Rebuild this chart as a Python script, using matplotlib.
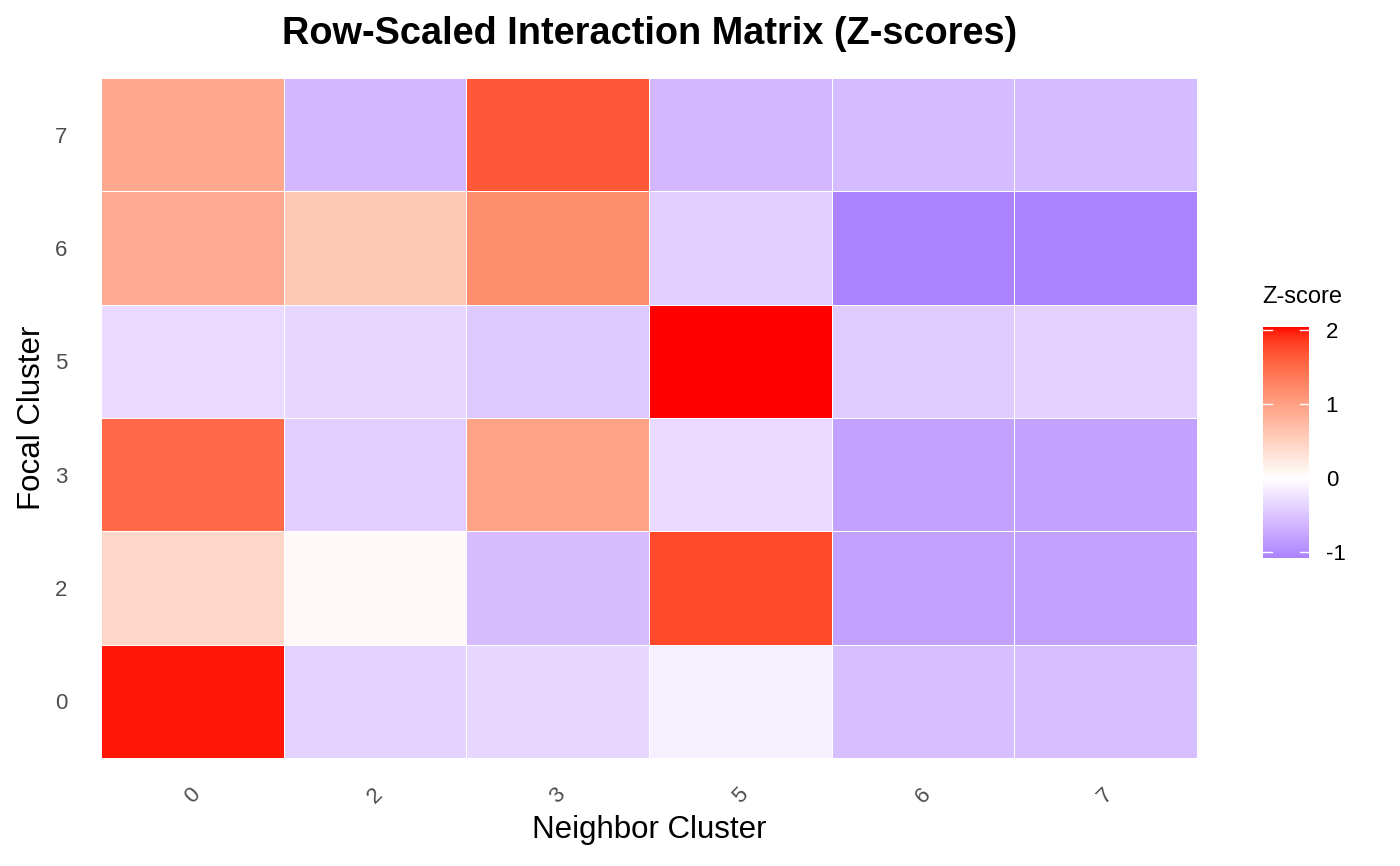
import numpy as np
import matplotlib
matplotlib.use("Agg")
import matplotlib.pyplot as plt
from matplotlib.colors import ListedColormap, Normalize

# ---- data ----
neighbor_clusters = ["0", "2", "3", "5", "6", "7"]
focal_clusters = ["0", "2", "3", "5", "6", "7"]
z_focal_0 = [2.00, -0.38, -0.34, -0.12, -0.55, -0.55]
z_focal_2 = [0.42, 0.05, -0.57, 1.76, -0.80, -0.80]
z_focal_3 = [1.52, -0.42, 0.97, -0.31, -0.80, -0.80]
z_focal_5 = [-0.31, -0.34, -0.46, 2.04, -0.44, -0.39]
z_focal_6 = [0.90, 0.58, 1.18, -0.42, -1.08, -1.08]
z_focal_7 = [0.92, -0.60, 1.65, -0.60, -0.58, -0.58]
legend_ticks = [-1, 0, 1, 2]

Z = np.array([z_focal_0, z_focal_2, z_focal_3, z_focal_5, z_focal_6, z_focal_7])

# ---- Lab colour interpolation (like ggplot's gradient) ----
def srgb_to_lin(c):
    c = np.asarray(c, float)
    return np.where(c <= 0.04045, c / 12.92, ((c + 0.055) / 1.055) ** 2.4)

def lin_to_srgb(c):
    c = np.clip(c, 0, 1)
    return np.where(c <= 0.0031308, 12.92 * c, 1.055 * c ** (1 / 2.4) - 0.055)

M = np.array([[0.4124, 0.3576, 0.1805],
              [0.2126, 0.7152, 0.0722],
              [0.0193, 0.1192, 0.9505]])
WP = np.array([0.95047, 1.0, 1.08883])

def rgb_to_lab(rgb):
    xyz = M @ srgb_to_lin(rgb) / WP
    f = np.where(xyz > 0.008856, np.cbrt(xyz), 7.787 * xyz + 16 / 116)
    return np.array([116 * f[1] - 16, 500 * (f[0] - f[1]), 200 * (f[1] - f[2])])

def lab_to_rgb(lab):
    L, a, b = lab
    fy = (L + 16) / 116
    fx = fy + a / 500
    fz = fy - b / 200
    f = np.array([fx, fy, fz])
    xyz = np.where(f ** 3 > 0.008856, f ** 3, (f - 16 / 116) / 7.787) * WP
    return np.clip(lin_to_srgb(np.linalg.inv(M) @ xyz), 0, 1)

def hex2rgb(h):
    h = h.lstrip("#")
    return np.array([int(h[i:i + 2], 16) / 255 for i in (0, 2, 4)])

vmin, vmax = Z.min(), Z.max()
low, mid, high = hex2rgb("#AB82FF"), hex2rgb("#FFFFFF"), hex2rgb("#FF0000")
lab_low, lab_mid, lab_high = rgb_to_lab(low), rgb_to_lab(mid), rgb_to_lab(high)
colors = []
for v in np.linspace(vmin, vmax, 512):
    if v < 0:
        t = v / vmin
        colors.append(lab_to_rgb(lab_mid + (lab_low - lab_mid) * t))
    else:
        t = v / vmax
        colors.append(lab_to_rgb(lab_mid + (lab_high - lab_mid) * t))
cmap = ListedColormap(colors)
norm = Normalize(vmin=vmin, vmax=vmax)

plt.rcParams["font.family"] = ["Liberation Sans", "DejaVu Sans"]

fig = plt.figure(figsize=(14, 8.66), dpi=100)
ax = fig.add_axes([101 / 1400, 1 - 758 / 866, 1096 / 1400, 680 / 866])

mesh = ax.pcolormesh(np.arange(len(neighbor_clusters) + 1) - 0.5,
                     np.arange(len(focal_clusters) + 1) - 0.5,
                     Z, cmap=cmap, norm=norm, edgecolor="white", linewidth=0.5)
ax.set_xlim(-0.5, len(neighbor_clusters) - 0.5)
ax.set_ylim(-0.5, len(focal_clusters) - 0.5)
ax.set_xticks(range(len(neighbor_clusters)))
ax.set_xticklabels(neighbor_clusters, rotation=45, ha="center", va="top")
ax.set_yticks(range(len(focal_clusters)))
ax.set_yticklabels(focal_clusters)
ax.tick_params(axis="both", length=0, labelsize=16, labelcolor="#4D4D4D")
ax.tick_params(axis="x", pad=19)
ax.tick_params(axis="y", pad=24)
for s in ax.spines.values():
    s.set_visible(False)

ax.set_xlabel("Neighbor Cluster", fontsize=22.5, labelpad=5)
ax.set_ylabel("Focal Cluster", fontsize=22.5, labelpad=6)
fig.text(650 / 1400, 1 - 34 / 866, "Row-Scaled Interaction Matrix (Z-scores)",
         ha="center", va="center", fontsize=27.3, fontweight="bold")

# colorbar
cax = fig.add_axes([1263 / 1400, 1 - 558 / 866, 46 / 1400, 231 / 866])
cb = fig.colorbar(mesh, cax=cax)
cb.outline.set_visible(False)
cb.set_ticks(legend_ticks)
cb.set_ticklabels([str(t) for t in legend_ticks])
cb.ax.tick_params(length=0, labelsize=16, pad=12, labelcolor="black")
for v in legend_ticks:
    cax.axhline(v, 0, 0.2, color="white", linewidth=1)
    cax.axhline(v, 0.8, 1, color="white", linewidth=1)
fig.text(1262 / 1400, 1 - 297 / 866, "Z-score", ha="left", va="center", fontsize=17)

fig.savefig("out.png", dpi=100)
